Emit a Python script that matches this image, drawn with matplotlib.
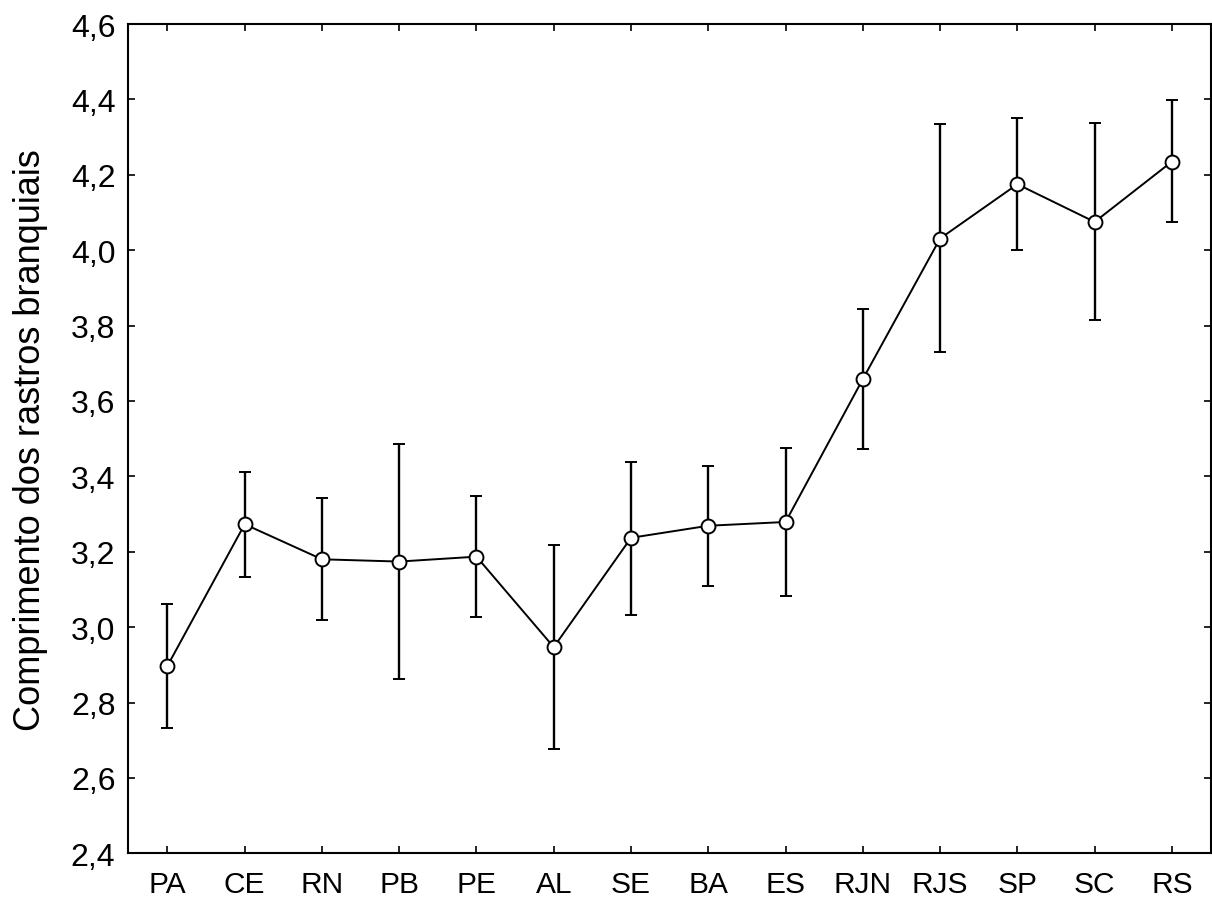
import numpy as np
import matplotlib.pyplot as plt

plt.rcParams['font.family'] = ['Liberation Sans', 'DejaVu Sans']

locais = ["PA", "CE", "RN", "PB", "PE", "AL", "SE", "BA", "ES", "RJN", "RJS", "SP", "SC", "RS"]
media = [2.897, 3.273, 3.180, 3.174, 3.187, 2.947, 3.237, 3.269, 3.279, 3.658, 4.031, 4.175, 4.075, 4.235]
lim_sup = [3.061, 3.412, 3.343, 3.485, 3.347, 3.218, 3.439, 3.428, 3.475, 3.844, 4.335, 4.351, 4.338, 4.398]
lim_inf = [2.732, 3.133, 3.019, 2.862, 3.028, 2.677, 3.032, 3.110, 3.083, 3.473, 3.730, 4.001, 3.816, 4.074]

media = np.array(media)
erro = [media - np.array(lim_inf), np.array(lim_sup) - media]
x = np.arange(len(locais))

fig = plt.figure(figsize=(12.12, 9.03), dpi=100)
ax = fig.add_axes([0.1056, 0.0539, 0.8932, 0.9184])

ax.errorbar(x, media, yerr=erro, color="black", lw=1.4, elinewidth=1.7,
            capsize=4, capthick=1.7, marker="o", markersize=10,
            markerfacecolor="white", markeredgecolor="black", markeredgewidth=1.4)

ax.set_xlim(-0.51, 13.5)
ax.set_ylim(2.4, 4.6)
ax.set_xticks(x)
ax.set_xticklabels(locais, fontsize=21.5)
yt = np.arange(2.4, 4.61, 0.2)
ax.set_yticks(yt)
ax.set_yticklabels([f"{v:.1f}".replace(".", ",") for v in yt], fontsize=23)

ax.tick_params(direction="in", length=5, width=1.2, top=True, right=True)
ax.tick_params(axis="x", pad=12)
ax.tick_params(axis="y", pad=9)
for s in ax.spines.values():
    s.set_linewidth(1.5)

ax.set_ylabel("Comprimento dos rastros branquiais", fontsize=26)
ax.yaxis.set_label_coords(-0.074, 0.5)

fig.savefig("out.png", dpi=100)
